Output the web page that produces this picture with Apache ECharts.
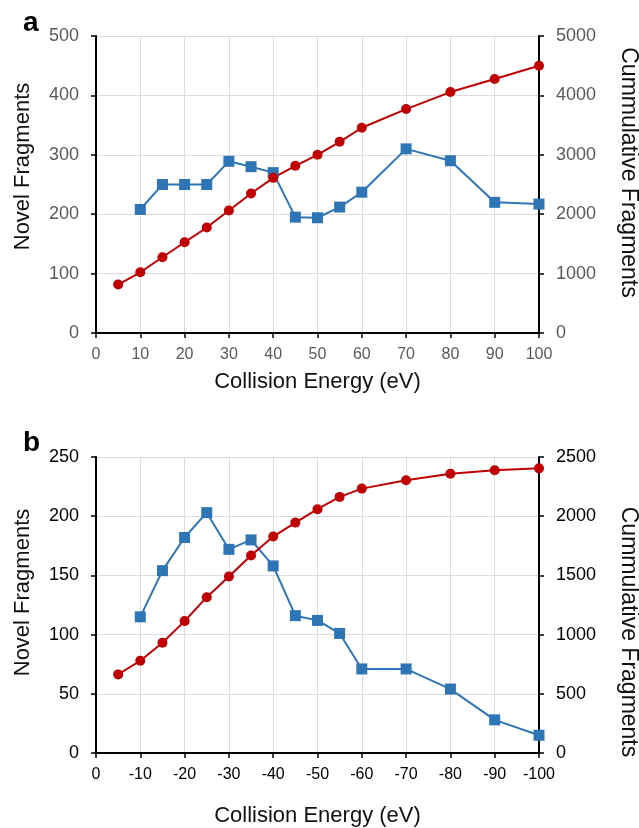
<!DOCTYPE html>
<html>
<head>
<meta charset="utf-8">
<script src="https://cdn.jsdelivr.net/npm/echarts@6/dist/echarts.min.js"></script>
<style>
html,body{margin:0;padding:0;background:#fff;}
#c{width:639px;height:828px;}
</style>
</head>
<body>
<div id="c"></div>
<script>
// Panel a
const energyA = [5,10,15,20,25,30,35,40,45,50,55,60,70,80,90,100];
const novelA = [null,208,250,250,250,289,280,270,195,194,212,237,310,290,220,217];
const cumulA = [815,1022,1275,1528,1775,2062,2348,2612,2815,3000,3219,3455,3770,4056,4275,4500];
// Panel b
const energyB = [-5,-10,-15,-20,-25,-30,-35,-40,-45,-50,-55,-60,-70,-80,-90,-100];
const novelB = [null,115,154,182,203,172,180,158,116,112,101,71,71,54,28,15];
const cumulB = [664,779,931,1114,1316,1490,1668,1828,1946,2059,2163,2233,2303,2359,2388,2404];

const BLUE = '#2e75b6', RED = '#c00000';
const FONT = 'Liberation Sans, Arial, sans-serif';

function pairs(xs, ys){ return xs.map((x,i)=>[x, ys[i]]).filter(p=>p[1]!==null); }

function xAxis(gi, inverse, labelColor, nameGap){
  return {
    type:'value', gridIndex:gi, min: inverse?-100:0, max: inverse?0:100, interval:10, inverse: inverse,
    name:'Collision Energy (eV)', nameLocation:'middle', nameGap:nameGap,
    nameTextStyle:{fontSize:22, color:'#111', fontFamily:FONT},
    axisLine:{show:true, onZero:false, lineStyle:{color:'#000', width:2}},
    axisTick:{show:true, length:5, lineStyle:{color:'#000', width:1.5}},
    axisLabel:{fontSize:16, color:labelColor, margin:14, fontFamily:FONT, formatter:v=>String(v)},
    splitLine:{show:true, lineStyle:{color:'#dcdcdc', width:1}}
  };
}
function yAxis(gi, pos, max, interval, name, labelColor, nameGap, rot, fs, pad){
  return {
    type:'value', gridIndex:gi, position:pos, min:0, max:max, interval:interval,
    name:name, nameLocation:'middle', nameGap:nameGap, nameRotate:rot,
    nameTextStyle:{fontSize:fs, color:'#111', fontFamily:FONT, padding:pad},
    axisLine:{show:true, lineStyle:{color:'#000', width:2}},
    axisTick:{show:true, length:5, lineStyle:{color:'#000', width:1.5}},
    axisLabel:{fontSize:18, color:labelColor, margin:17, fontFamily:FONT, formatter:v=>String(v)},
    splitLine:{show: pos==='left', lineStyle:{color:'#dcdcdc', width:1}}
  };
}

const chart = echarts.init(document.getElementById('c'), null, {renderer:'canvas'});
chart.setOption({
  animation:false,
  backgroundColor:'#fff',
  textStyle:{fontFamily:FONT},
  title:[
    {text:'a', left:18, top:4, textStyle:{fontSize:28, fontWeight:'bold', color:'#000', fontFamily:FONT}},
    {text:'b', left:18, top:424, textStyle:{fontSize:28, fontWeight:'bold', color:'#000', fontFamily:FONT}}
  ],
  grid:[
    {left:96, right:100, top:36, height:297, outerBoundsMode:'none', containLabel:false},
    {left:96, right:100, top:457, height:296, outerBoundsMode:'none', containLabel:false}
  ],
  xAxis:[ xAxis(0,false,'#595959',38), xAxis(1,true,'#000',52) ],
  yAxis:[
    yAxis(0,'left',500,100,'Novel Fragments','#595959',62,90,22,[0,0,0,36]),
    yAxis(0,'right',5000,1000,'Cummulative Fragments','#595959',78,-90,23,[0,24,0,0]),
    yAxis(1,'left',250,50,'Novel Fragments','#000',62,90,22,[0,0,0,25]),
    yAxis(1,'right',2500,500,'Cummulative Fragments','#000',78,-90,23,[0,0,0,54])
  ],
  series:[
    {type:'line', xAxisIndex:0, yAxisIndex:0, data:pairs(energyA, novelA), symbol:'rect', symbolSize:11,
     lineStyle:{color:BLUE, width:2}, itemStyle:{color:BLUE}},
    {type:'line', xAxisIndex:0, yAxisIndex:1, data:pairs(energyA, cumulA), symbol:'circle', symbolSize:10,
     lineStyle:{color:RED, width:2}, itemStyle:{color:RED}},
    {type:'line', xAxisIndex:1, yAxisIndex:2, data:pairs(energyB, novelB), symbol:'rect', symbolSize:11,
     lineStyle:{color:BLUE, width:2}, itemStyle:{color:BLUE}},
    {type:'line', xAxisIndex:1, yAxisIndex:3, data:pairs(energyB, cumulB), symbol:'circle', symbolSize:10,
     lineStyle:{color:RED, width:2}, itemStyle:{color:RED}}
  ]
});
</script>
</body>
</html>
